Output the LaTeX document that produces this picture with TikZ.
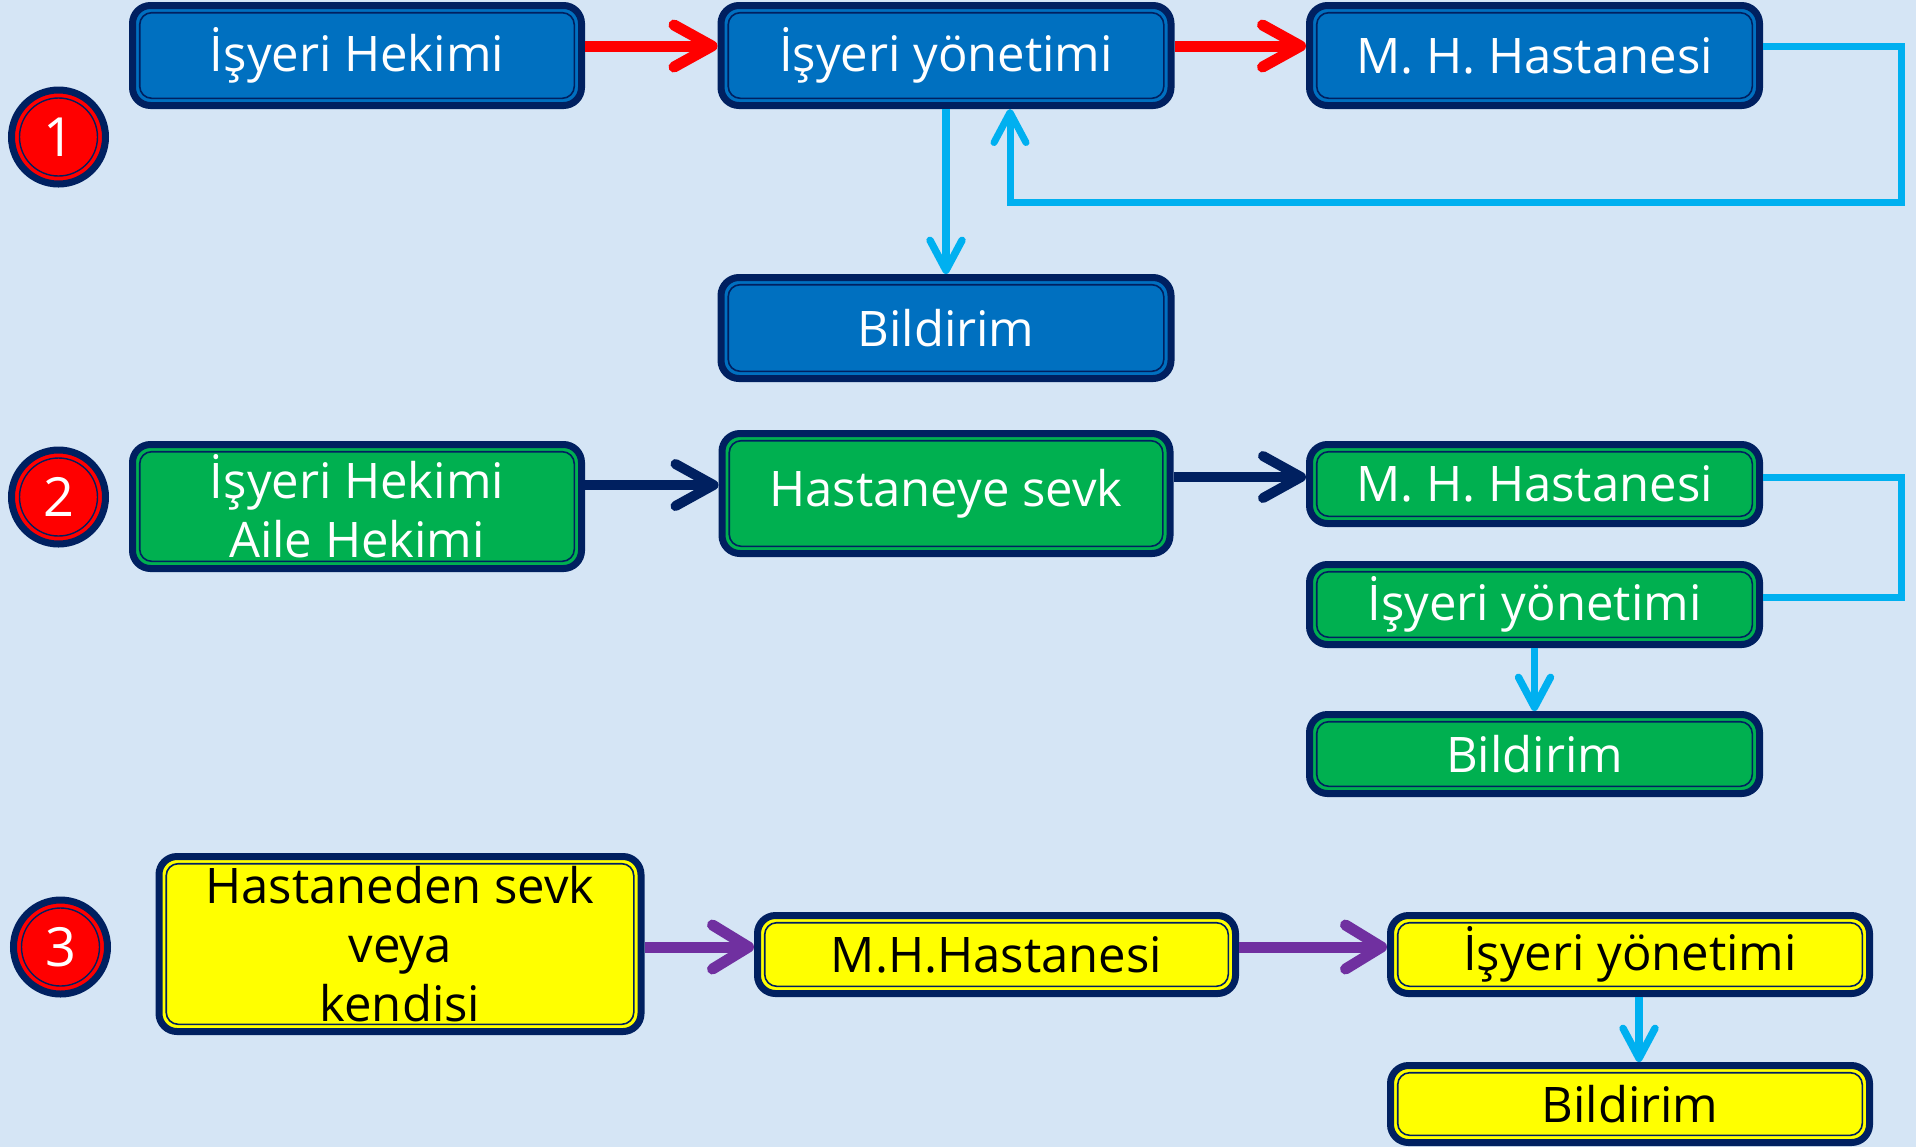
\documentclass[tikz,border=0pt]{standalone}
\usepackage{fontspec}
\setmainfont{Open Sans}
\usetikzlibrary{arrows.meta}
\definecolor{navy}{HTML}{002060}
\definecolor{boxblue}{HTML}{0070C0}
\definecolor{boxgreen}{HTML}{00B050}
\definecolor{boxyellow}{HTML}{FFFF00}
\definecolor{lightblue}{HTML}{00B0F0}
\definecolor{arrpurple}{HTML}{7030A0}
\definecolor{bgcol}{HTML}{D5E5F5}
\tikzset{
  box/.style={draw=navy, line width=3.5pt, rounded corners=9pt, inner sep=0pt, align=center,
    font=\fontsize{24.5}{29.5}\selectfont,
    path picture={\draw[navy, line width=0.8pt, rounded corners=6pt]
      ([shift={(3.6pt,-3.6pt)}]path picture bounding box.north west) rectangle
      ([shift={(-3.6pt,3.6pt)}]path picture bounding box.south east);}},
  bluebox/.style={box, fill=boxblue, text=white},
  greenbox/.style={box, fill=boxgreen, text=white},
  yellowbox/.style={box, fill=boxyellow, text=black},
  num/.style={circle, draw=navy, fill=red, line width=3.5pt, minimum size=47pt, inner sep=0pt,
    text=white, font=\fontsize{27}{30}\selectfont,
    path picture={\draw[navy, line width=0.7pt] (path picture bounding box.center) circle[radius=19.5pt];}},
  redarr/.style={draw=red, line width=5.5pt, -{Straight Barb[length=19pt,width=21pt,round]}},
  navyarr/.style={draw=navy, line width=5pt, -{Straight Barb[length=19pt,width=21pt,round]}},
  purplearr/.style={draw=arrpurple, line width=5.5pt, -{Straight Barb[length=18pt,width=22pt,round]}},
  bluearr/.style={draw=lightblue, line width=3.7pt, -{Straight Barb[length=15pt,width=16pt,round]}},
  fbline/.style={draw=lightblue, line width=3.5pt}
}
\begin{document}
\begin{tikzpicture}[x=0.5pt,y=-0.5pt]
\useasboundingbox (0,0) rectangle (1916,1147);
\fill[bgcol] (0,0) rectangle (1916,1147);

% row 1
\node[bluebox, minimum width=224.5pt, minimum height=50pt] (a1) at (357,55.5) {İşyeri Hekimi};
\node[bluebox, minimum width=225pt, minimum height=50pt] (b1) at (946,55.5) {İşyeri yönetimi};
\node[bluebox, minimum width=225pt, minimum height=50pt] (c1) at (1534.5,55.5) {M. H. Hastanesi};
\node[bluebox, minimum width=225pt, minimum height=50.5pt] (d1) at (946,328) {Bildirim};
\node[num] (n1) at (58.5,137) {1};

% row 2
\node[greenbox, minimum width=224.5pt, minimum height=62pt] (a2) at (357,506.5) {İşyeri Hekimi\\Aile Hekimi};
\node[greenbox, minimum width=224pt, minimum height=60pt] (b2) at (946,493.5) {Hastaneye sevk};
\node[greenbox, minimum width=225pt, minimum height=39.5pt] (c2) at (1534.5,484) {M. H. Hastanesi};
\node[greenbox, minimum width=225pt, minimum height=40pt] (e2) at (1534.5,604.5) {İşyeri yönetimi};
\node[greenbox, minimum width=225pt, minimum height=39.5pt] (d2) at (1534.5,754) {Bildirim};
\node[num] (n2) at (58.5,497) {2};

% row 3
\node[yellowbox, minimum width=241pt, minimum height=87.5pt] (a3) at (400,944) {Hastaneden sevk\\veya\\kendisi};
\node[yellowbox, minimum width=239pt, minimum height=39pt] (b3) at (996.5,954.5) {M.H.Hastanesi};
\node[yellowbox, minimum width=239.5pt, minimum height=39pt] (c3) at (1630,954.5) {İşyeri yönetimi};
\node[yellowbox, minimum width=239.5pt, minimum height=38.5pt] (d3) at (1630,1104) {Bildirim};
\node[num] (n3) at (60.5,947) {3};

% connectors row 1
\coordinate (fb1) at (1901,202);
\draw[redarr] ([yshift=4.75pt]a1.east) -- ([yshift=4.75pt]a1.east -| b1.west);
\draw[redarr] ([yshift=4.75pt]b1.east) -- ([yshift=4.75pt]b1.east -| c1.west);
\draw[bluearr] (b1.south) -- (d1.north);
\draw[fbline, -{Straight Barb[length=15pt,width=16pt,round]}] ([yshift=4.75pt]c1.east) -| (fb1) -| ([xshift=32pt]b1.south);

% connectors row 2
\coordinate (fb2) at (1901,597);
\draw[navyarr] ([yshift=10.75pt]a2.east) -- ([yshift=10.75pt]a2.east -| b2.west);
\draw[navyarr] ([yshift=8.25pt]b2.east) -- ([yshift=8.25pt]b2.east -| c2.west);
\draw[fbline] ([yshift=3.5pt]c2.east) -| (fb2) -- ([yshift=3.75pt]e2.east);
\draw[bluearr] (e2.south) -- (d2.north);

% connectors row 3
\draw[purplearr] ([yshift=-1.5pt]a3.east) -- ([yshift=-1.5pt]a3.east -| b3.west);
\draw[purplearr] ([yshift=3.75pt]b3.east) -- ([yshift=3.75pt]b3.east -| c3.west);
\draw[bluearr] ([xshift=4.5pt]c3.south) -- ([xshift=4.5pt]c3.south |- d3.north);
\end{tikzpicture}
\end{document}
